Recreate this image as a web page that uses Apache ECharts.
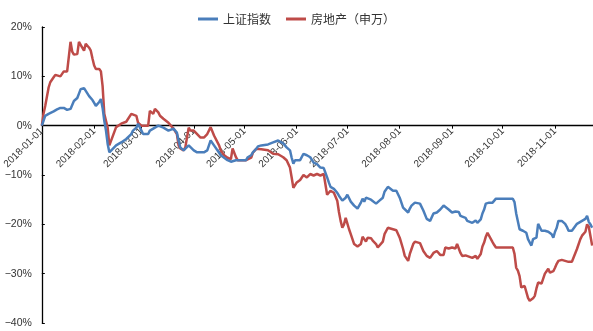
<!DOCTYPE html>
<html>
<head>
<meta charset="utf-8">
<script src="https://cdn.jsdelivr.net/npm/echarts@6/dist/echarts.min.js"></script>
<style>html,body{margin:0;padding:0;background:#fff}#c{width:593px;height:331px}</style>
</head>
<body>
<div id="c"></div>
<script>
const seriesNames = ['上证指数', '房地产（申万）'];
const dates = ['2018-01-01','2018-01-02','2018-01-03','2018-01-05','2018-01-06','2018-01-08','2018-01-09','2018-01-10','2018-01-12','2018-01-14',
'2018-01-16','2018-01-17','2018-01-18','2018-01-19','2018-01-20','2018-01-21','2018-01-22','2018-01-23','2018-01-24','2018-01-25',
'2018-01-26','2018-01-27','2018-01-29','2018-01-30','2018-01-31','2018-02-01','2018-02-02','2018-02-03','2018-02-04','2018-02-05',
'2018-02-06','2018-02-07','2018-02-08','2018-02-09','2018-02-10','2018-02-11','2018-02-14','2018-02-17','2018-02-20','2018-02-21',
'2018-02-23','2018-02-24','2018-02-26','2018-02-27','2018-03-01','2018-03-02','2018-03-05','2018-03-06','2018-03-08','2018-03-09',
'2018-03-11','2018-03-12','2018-03-14','2018-03-17','2018-03-18','2018-03-20','2018-03-22','2018-03-23','2018-03-24','2018-03-26',
'2018-03-27','2018-03-29','2018-03-30','2018-04-01','2018-04-03','2018-04-05','2018-04-07','2018-04-09','2018-04-11','2018-04-13',
'2018-04-16','2018-04-17','2018-04-19','2018-04-21','2018-04-23','2018-04-24','2018-04-26','2018-04-27','2018-04-29','2018-05-02',
'2018-05-03','2018-05-05','2018-05-06','2018-05-08','2018-05-09','2018-05-11','2018-05-12','2018-05-15','2018-05-16','2018-05-18',
'2018-05-21','2018-05-22','2018-05-24','2018-05-26','2018-05-28','2018-05-29','2018-05-30','2018-05-31','2018-06-01','2018-06-03',
'2018-06-05','2018-06-07','2018-06-09','2018-06-11','2018-06-13','2018-06-15','2018-06-17','2018-06-18','2018-06-19','2018-06-20',
'2018-06-21','2018-06-23','2018-06-25','2018-06-26','2018-06-27','2018-06-28','2018-06-29','2018-06-30','2018-07-01','2018-07-02',
'2018-07-03','2018-07-05','2018-07-06','2018-07-07','2018-07-08','2018-07-09','2018-07-10','2018-07-11','2018-07-12','2018-07-13',
'2018-07-15','2018-07-16','2018-07-18','2018-07-19','2018-07-20','2018-07-22','2018-07-23','2018-07-25','2018-07-26','2018-07-28',
'2018-07-30','2018-07-31','2018-08-01','2018-08-03','2018-08-04','2018-08-06','2018-08-07','2018-08-08','2018-08-09','2018-08-10',
'2018-08-11','2018-08-13','2018-08-15','2018-08-17','2018-08-19','2018-08-21','2018-08-23','2018-08-25','2018-08-27','2018-08-28',
'2018-08-30','2018-09-01','2018-09-03','2018-09-04','2018-09-05','2018-09-06','2018-09-07','2018-09-09','2018-09-10','2018-09-13',
'2018-09-15','2018-09-16','2018-09-18','2018-09-19','2018-09-20','2018-09-21','2018-09-22','2018-09-23','2018-09-25','2018-09-26',
'2018-09-27','2018-10-01','2018-10-07','2018-10-08','2018-10-09','2018-10-10','2018-10-11','2018-10-12','2018-10-13','2018-10-14',
'2018-10-15','2018-10-16','2018-10-17','2018-10-18','2018-10-19','2018-10-20','2018-10-21','2018-10-22','2018-10-24','2018-10-26',
'2018-10-27','2018-10-28','2018-10-29','2018-10-30','2018-10-31','2018-11-01','2018-11-02','2018-11-03','2018-11-05','2018-11-06',
'2018-11-07','2018-11-08','2018-11-09','2018-11-10','2018-11-11','2018-11-12','2018-11-14','2018-11-16','2018-11-17','2018-11-19',
'2018-11-20','2018-11-21','2018-11-22','2018-11-23'];
const shIndex = [0,1.0,2.0,2.4,2.7,2.9,3.0,3.3,3.6,3.6,
3.2,3.0,3.4,4.2,5.0,5.4,5.6,6.5,7.4,7.7,
7.6,7.3,6.0,5.6,5.2,4.6,4.0,4.4,4.8,5.4,
3.6,1.0,-1.0,-3.7,-5.4,-5.0,-4.0,-3.4,-2.7,-2.3,
-1.7,-1.0,-0.4,0.4,-1.0,-1.7,-1.7,-1.0,-0.6,-0.4,
0.0,0.4,-0.4,-1.0,-1.0,-0.6,-1.4,-3.0,-4.4,-5.0,
-5.2,-4.0,-4.2,-5.0,-5.4,-5.4,-5.4,-5.0,-3.0,-4.0,
-5.5,-6.0,-6.5,-7.0,-7.3,-7.0,-7.0,-7.0,-7.0,-7.0,
-6.4,-6.0,-5.4,-4.7,-4.2,-4.0,-4.0,-3.8,-3.6,-3.4,
-3.0,-2.7,-3.6,-4.4,-5.0,-6.5,-7.7,-7.0,-7.0,-7.0,
-5.7,-6.0,-6.4,-7.5,-7.8,-8.5,-8.6,-8.8,-10.5,-11.5,
-12.4,-12.8,-13.6,-14.2,-14.6,-15.2,-15.4,-14.6,-14.0,-14.2,
-15.4,-16.2,-16.6,-16.8,-16.4,-15.6,-14.8,-15.4,-14.6,-14.8,
-15.0,-15.4,-15.8,-15.6,-15.2,-14.6,-13.4,-12.4,-12.8,-13.2,
-13.2,-13.4,-14.6,-16.6,-17.0,-17.6,-16.8,-16.2,-16.0,-15.6,
-15.6,-15.8,-17.2,-18.9,-19.3,-17.8,-17.6,-17.0,-16.2,-16.4,
-17.0,-17.6,-17.4,-17.0,-17.5,-18.3,-18.2,-18.7,-19.3,-19.7,
-19.2,-19.7,-19.0,-17.8,-17.0,-15.8,-15.8,-15.6,-15.6,-15.6,
-14.8,-14.8,-14.8,-15.5,-17.8,-18.0,-21.0,-21.3,-21.3,-21.7,
-21.7,-23.0,-22.8,-24.3,-23.0,-23.0,-22.7,-19.9,-21.3,-21.3,
-21.3,-21.5,-21.7,-22.0,-22.7,-21.5,-20.7,-19.3,-19.3,-19.5,
-19.9,-20.5,-21.3,-21.3,-21.3,-21.0,-19.9,-19.5,-19.2,-18.9,
-18.3,-19.5,-20.0,-20.7];
const realEstate = [0,2.4,4.0,7.7,8.8,9.8,10.3,10.5,10.0,11.0,
11.0,11.2,17.0,15.0,14.4,14.2,14.5,17.0,16.4,16.6,
15.2,16.6,15.8,15.2,13.6,12.2,11.5,11.5,11.5,11.0,
8.0,2.4,1.0,-0.4,-4.0,-3.7,-0.3,0.4,0.8,1.0,
2.4,2.7,2.0,0.6,0.0,0.2,0.0,3.0,2.4,3.4,
2.7,2.0,1.4,0.6,0.4,-0.6,-1.7,-4.0,-4.6,-5.0,
-4.4,-0.4,-1.0,-1.0,-1.7,-2.4,-2.4,-1.7,-0.3,-2.0,
-4.0,-5.0,-6.0,-6.5,-6.8,-4.6,-6.4,-7.0,-7.0,-7.0,
-7.0,-6.5,-5.5,-4.7,-4.4,-4.8,-5.0,-5.0,-5.4,-5.7,
-5.8,-6.0,-6.4,-7.0,-8.5,-10.5,-12.6,-12.8,-11.5,-11.0,
-10.0,-10.5,-9.8,-10.1,-9.8,-10.1,-9.8,-10.0,-14.0,-14.0,
-13.2,-13.6,-15.2,-17.5,-19.3,-20.7,-20.0,-18.7,-18.9,-21.0,
-22.0,-24.0,-24.3,-24.5,-24.5,-24.0,-22.5,-22.7,-23.5,-22.7,
-22.8,-23.3,-24.0,-24.7,-24.7,-23.5,-22.0,-20.7,-20.9,-21.0,
-21.2,-20.8,-22.7,-25.0,-26.4,-27.4,-26.0,-25.0,-24.0,-23.5,
-23.3,-23.8,-25.4,-26.4,-26.8,-25.8,-25.4,-26.2,-26.2,-24.7,
-24.9,-24.7,-24.9,-24.0,-24.9,-25.8,-26.4,-26.3,-26.4,-26.8,
-26.4,-27.0,-26.0,-24.5,-23.7,-22.5,-21.7,-21.7,-23.6,-24.2,
-24.7,-24.7,-24.7,-26.0,-28.8,-29.4,-30.5,-32.8,-32.8,-32.5,
-32.5,-34.9,-35.5,-35.9,-35.0,-34.5,-33.0,-31.8,-32.0,-30.0,
-29.5,-29.0,-29.8,-30.0,-29.5,-28.8,-28.0,-27.4,-27.2,-27.0,
-27.4,-27.4,-27.6,-27.8,-27.6,-27.4,-25.0,-23.0,-22.3,-21.5,
-20.0,-20.5,-20.7,-24.3];
const yTicks = [-40, -30, -20, -10, 0, 10, 20];

const W = 593, H = 331;
const gridTop = 27, gridBottom = 8;
const yMin = yTicks[0], yMax = yTicks[yTicks.length - 1];
// shift the bottom-positioned x axis up to the zero line of the value axis
const zeroOffset = -(H - gridTop - gridBottom) * (0 - yMin) / (yMax - yMin);

const chart = echarts.init(document.getElementById('c'), null, {renderer: 'canvas'});
const txt = '#333';
chart.setOption({
  animation: false,
  color: ['#4A7EBB', '#BE4B48'],
  legend: {
    data: seriesNames,
    left: 198, top: 13, padding: 0,
    itemWidth: 20, itemHeight: 3, itemGap: 15,
    icon: 'rect',
    textStyle: {fontFamily: 'Noto Sans CJK SC', fontSize: 12, color: txt}
  },
  grid: {left: 41, right: 0, top: gridTop, bottom: gridBottom, containLabel: false},
  xAxis: {
    type: 'time',
    position: 'bottom',
    offset: zeroOffset,
    min: '2018-01-01',
    max: '2018-11-23 12:00',
    splitNumber: 11,
    minInterval: 28 * 86400000,
    maxInterval: 31 * 86400000,
    axisLine: {onZero: false, lineStyle: {color: '#000', width: 1.3}},
    axisTick: {show: true, inside: false, length: 3, lineStyle: {color: '#000'}},
    axisLabel: {
      rotate: 45, fontSize: 10, color: txt, fontFamily: 'Liberation Sans',
      formatter: '{yyyy}-{MM}-{dd}', showMinLabel: true, showMaxLabel: false,
      margin: 4, hideOverlap: false
    },
    splitLine: {show: false}
  },
  yAxis: {
    type: 'value',
    min: yMin, max: yMax, interval: 10,
    axisLine: {show: true, onZero: false, lineStyle: {color: '#000', width: 1.3}},
    axisTick: {show: true, inside: true, length: 3, lineStyle: {color: '#000'}},
    axisLabel: {
      fontSize: 10.5, color: txt, fontFamily: 'Liberation Sans', margin: 10,
      formatter: v => (v < 0 ? '\u2212' + Math.abs(v) : v) + '%'
    },
    splitLine: {show: false}
  },
  series: [
    {name: seriesNames[0], type: 'line', showSymbol: false, data: dates.map((d, i) => [d, shIndex[i]]), lineStyle: {width: 2.5}, z: 3},
    {name: seriesNames[1], type: 'line', showSymbol: false, data: dates.map((d, i) => [d, realEstate[i]]), lineStyle: {width: 2.5}, z: 2}
  ]
});
</script>
</body>
</html>
